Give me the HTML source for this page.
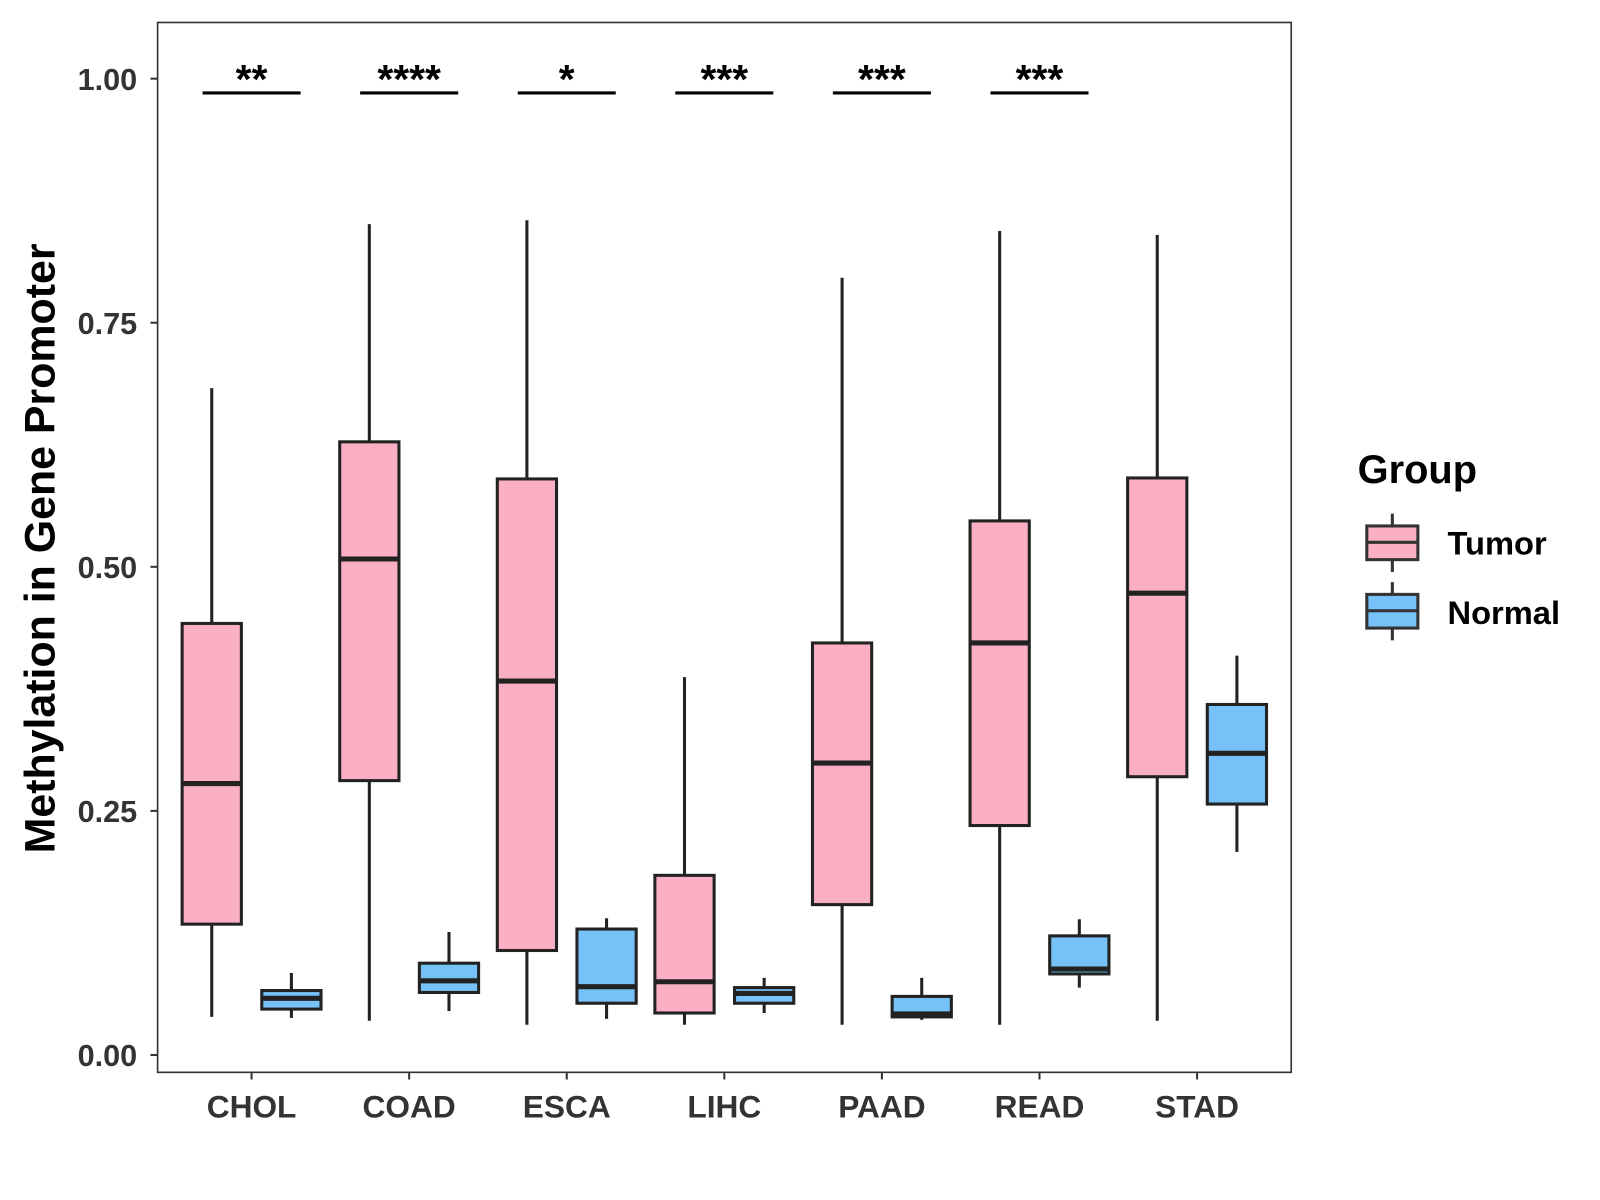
<!DOCTYPE html>
<html><head><meta charset="utf-8"><style>
html,body{margin:0;padding:0;background:#fff}
svg{display:block}
text{font-family:"Liberation Sans",Arial,sans-serif;font-weight:bold}
</style></head><body>
<svg id="chart" width="1600" height="1200" viewBox="0 0 1566 1175" xmlns="http://www.w3.org/2000/svg">
<rect x="154" y="22" width="1110" height="1028" fill="#fff" stroke="#333" stroke-width="1.6"/>
<g id="marks"></g>
<text x="0" y="0" transform="translate(53,537) rotate(-90)" text-anchor="middle" font-size="42" fill="#000">Methylation in Gene Promoter</text>
<g>
<text x="1329" y="473" font-size="39" fill="#000">Group</text>
<g>
<line x1="1363" y1="503" x2="1363" y2="560" stroke="#333" stroke-width="3"/>
<rect x="1338" y="515" width="50" height="33" fill="#FBAFC2" stroke="#333" stroke-width="3"/>
<line x1="1338" y1="531" x2="1388" y2="531" stroke="#333" stroke-width="3"/>
<text x="1417" y="543" font-size="32" fill="#000">Tumor</text></g>
<g>
<line x1="1363" y1="570" x2="1363" y2="627" stroke="#333" stroke-width="3"/>
<rect x="1338" y="582" width="50" height="33" fill="#76C1F7" stroke="#333" stroke-width="3"/>
<line x1="1338" y1="598" x2="1388" y2="598" stroke="#333" stroke-width="3"/>
<text x="1417" y="611" font-size="32" fill="#000">Normal</text></g>
</g>
</svg>
<script>
const categories=["CHOL","COAD","ESCA","LIHC","PAAD","READ","STAD"];
const tumorStats=[[0.039,0.134,0.278,0.442,0.683],[0.035,0.281,0.508,0.628,0.851],[0.031,0.107,0.383,0.590,0.855],[0.031,0.043,0.075,0.184,0.387],[0.031,0.154,0.299,0.422,0.796],[0.031,0.235,0.422,0.547,0.844],[0.035,0.285,0.473,0.591,0.840]];
const normalStats=[[0.038,0.047,0.058,0.066,0.084],[0.045,0.064,0.076,0.094,0.126],[0.037,0.053,0.070,0.129,0.140],[0.043,0.053,0.063,0.069,0.079],[0.036,0.039,0.042,0.060,0.079],[0.069,0.083,0.088,0.122,0.139],[0.208,0.257,0.309,0.359,0.409]];
const sigLabels=["**","****","*","***","***","***",""];
const yTicks=[0,0.25,0.5,0.75,1.0];
const yTickLabels=["0.00","0.25","0.50","0.75","1.00"];
const NS="http://www.w3.org/2000/svg";
const g=document.getElementById('marks');
const y=v=>1033-v*956;
const xc=i=>246+i*154.3;
function mk(t,a){const e=document.createElementNS(NS,t);for(const k in a)e.setAttribute(k,a[k]);g.appendChild(e);return e;}
yTicks.forEach((v,i)=>{
  const t=mk('line',{x1:147,x2:154,y1:y(v),y2:y(v),stroke:'#333','stroke-width':2});
  
  
  const l=mk('text',{x:134,y:y(v)+11,'text-anchor':'end','font-size':30,fill:'#333'});
  l.textContent=yTickLabels[i];
  
  
});
function box(s,cx,fill,name){
  const w=58,h=cx-w/2;
  const a=mk('line',{x1:cx,x2:cx,y1:y(s[4]),y2:y(s[3]),stroke:'#222','stroke-width':3});
  
  
  const b=mk('line',{x1:cx,x2:cx,y1:y(s[1]),y2:y(s[0]),stroke:'#222','stroke-width':3});
  
  
  const r=mk('rect',{x:h,y:y(s[3]),width:w,height:y(s[1])-y(s[3]),fill:fill,stroke:'#222','stroke-width':3});
  
  
  const m=mk('line',{x1:h,x2:h+w,y1:y(s[2]),y2:y(s[2]),stroke:'#222','stroke-width':5});
  
  
}
categories.forEach((c,i)=>{
  const cx=xc(i);
  box(tumorStats[i],cx-39,'#FBAFC2','tumor-'+c.toLowerCase());
  box(normalStats[i],cx+39,'#76C1F7','normal-'+c.toLowerCase());
  const t=mk('line',{x1:cx,x2:cx,y1:1050,y2:1057,stroke:'#333','stroke-width':2});
  
  
  const l=mk('text',{x:cx,y:1094,'text-anchor':'middle','font-size':31,fill:'#333'});
  l.textContent=c;
  
  
  if(sigLabels[i]){
    const s=mk('line',{x1:cx-48,x2:cx+48,y1:91,y2:91,stroke:'#000','stroke-width':3});
    
    
    const st=mk('text',{x:cx,y:91,'text-anchor':'middle','font-size':40,fill:'#000'});
    st.textContent=sigLabels[i];
    
    
  }
});
</script>
</body></html>
